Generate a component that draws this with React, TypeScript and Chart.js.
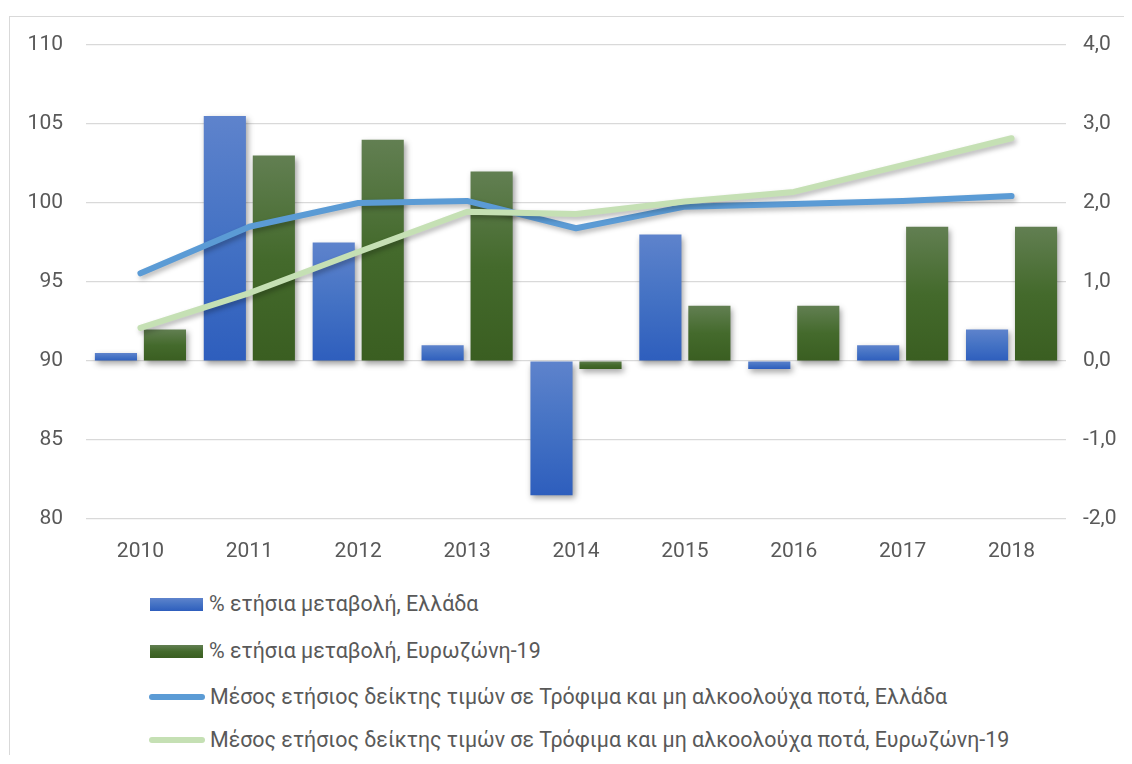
import React, { useEffect, useRef } from "react";
import { Chart, registerables } from "chart.js";

Chart.register(...registerables);

const years = ["2010", "2011", "2012", "2013", "2014", "2015", "2016", "2017", "2018"];
const greeceChange = [0.1, 3.1, 1.5, 0.2, -1.7, 1.6, -0.1, 0.2, 0.4];
const euroChange = [0.4, 2.6, 2.8, 2.4, -0.1, 0.7, 0.7, 1.7, 1.7];
const greeceIndex = [95.55, 98.5, 100.0, 100.13, 98.4, 99.77, 99.94, 100.13, 100.44];
const euroIndex = [92.1, 94.3, 96.9, 99.45, 99.3, 100.1, 100.7, 102.4, 104.1];

const labelGreeceChange = "% ετήσια μεταβολή, Ελλάδα";
const labelEuroChange = "% ετήσια μεταβολή, Ευρωζώνη-19";
const labelGreeceIndex = "Μέσος ετήσιος δείκτης τιμών σε Τρόφιμα και μη αλκοολούχα ποτά, Ελλάδα";
const labelEuroIndex = "Μέσος ετήσιος δείκτης τιμών σε Τρόφιμα και μη αλκοολούχα ποτά, Ευρωζώνη-19";

const BLUE = ["#5e83cc", "#4472c4", "#2e5ebd"];
const GREEN = ["#627f52", "#446a2c", "#3a5e21"];
const LINE_BLUE = "#5b9bd5";
const LINE_GREEN = "#c5e0b4";
const TEXT = "#595959";
const FONT = "Roboto";

const barGradient = (stops: string[]) => (ctx: any) => {
  const chart = ctx.chart;
  if (!chart.chartArea || ctx.type !== "data") return stops[1];
  const sc = chart.scales.y1;
  const v = ctx.raw as number;
  const p0 = sc.getPixelForValue(0);
  const p1 = sc.getPixelForValue(v);
  const t = Math.min(p0, p1);
  const b = Math.max(p0, p1);
  if (b - t < 1) return stops[1];
  const g = chart.ctx.createLinearGradient(0, t, 0, b);
  g.addColorStop(0, stops[0]);
  g.addColorStop(0.5, stops[1]);
  g.addColorStop(1, stops[2]);
  return g;
};

const shadowPlugin = {
  id: "softShadow",
  beforeDatasetDraw(chart: any, args: any) {
    const c = chart.ctx;
    c.save();
    const isBar = args.meta.type === "bar";
    c.shadowColor = isBar ? "rgba(0,0,0,0.38)" : "rgba(0,0,0,0.28)";
    c.shadowBlur = isBar ? 6 : 5;
    c.shadowOffsetX = 2;
    c.shadowOffsetY = 3;
  },
  afterDatasetDraw(chart: any) {
    chart.ctx.restore();
  },
};

const legendItems = [
  { label: labelGreeceChange, kind: "bar", stops: BLUE },
  { label: labelEuroChange, kind: "bar", stops: GREEN },
  { label: labelGreeceIndex, kind: "line", color: LINE_BLUE },
  { label: labelEuroIndex, kind: "line", color: LINE_GREEN },
];
const legendCenters = [587, 634, 680, 723];

export default function App() {
  const canvasRef = useRef<HTMLCanvasElement | null>(null);

  useEffect(() => {
    document.documentElement.style.overflow = "hidden";
    const canvas = canvasRef.current;
    if (!canvas) return;
    const chart = new Chart(canvas, {
      type: "bar",
      data: {
        labels: years,
        datasets: [
          {
            type: "line",
            label: labelEuroIndex,
            data: euroIndex,
            yAxisID: "y",
            borderColor: LINE_GREEN,
            backgroundColor: LINE_GREEN,
            borderWidth: 6,
            borderCapStyle: "round",
            borderJoinStyle: "round",
            pointRadius: 0,
            tension: 0,
            order: 0,
          },
          {
            type: "line",
            label: labelGreeceIndex,
            data: greeceIndex,
            yAxisID: "y",
            borderColor: LINE_BLUE,
            backgroundColor: LINE_BLUE,
            borderWidth: 6,
            borderCapStyle: "round",
            borderJoinStyle: "round",
            pointRadius: 0,
            tension: 0,
            order: 1,
          },
          {
            type: "bar",
            label: labelGreeceChange,
            data: greeceChange,
            yAxisID: "y1",
            backgroundColor: barGradient(BLUE),
            categoryPercentage: 0.9,
            barPercentage: 0.86,
            order: 2,
          },
          {
            type: "bar",
            label: labelEuroChange,
            data: euroChange,
            yAxisID: "y1",
            backgroundColor: barGradient(GREEN),
            categoryPercentage: 0.9,
            barPercentage: 0.86,
            order: 3,
          },
        ] as any,
      },
      options: {
        animation: false,
        responsive: true,
        maintainAspectRatio: false,
        layout: { padding: { top: 28, left: 0, right: 0, bottom: 0 } },
        plugins: {
          legend: { display: false },
          tooltip: { enabled: false },
        },
        scales: {
          x: {
            grid: { display: false },
            border: { display: false },
            ticks: { color: TEXT, font: { family: FONT, size: 21 }, padding: 12 },
            afterFit: (s: any) => {
              s.height = 58;
            },
          },
          y: {
            position: "left",
            min: 80,
            max: 110,
            ticks: { stepSize: 5, color: TEXT, font: { family: FONT, size: 21 }, padding: 0 },
            grid: {
              color: "#d9d9d9",
              lineWidth: 1.3,
              drawTicks: true,
              tickLength: 23,
              tickColor: "rgba(0,0,0,0)",
            },
            border: { display: false },
            afterFit: (s: any) => {
              s.width = 76;
            },
          },
          y1: {
            position: "right",
            min: -2,
            max: 4,
            ticks: {
              stepSize: 1,
              color: TEXT,
              font: { family: FONT, size: 21 },
              padding: 0,
              callback: (v: any) => Number(v).toFixed(1).replace(".", ","),
            },
            grid: {
              display: true,
              drawOnChartArea: false,
              drawTicks: true,
              tickLength: 17,
              tickColor: "rgba(0,0,0,0)",
            },
            border: { display: false },
            afterFit: (s: any) => {
              s.width = 54;
            },
          },
        },
      } as any,
      plugins: [shadowPlugin],
    });
    return () => chart.destroy();
  }, []);

  return (
    <div style={{ paddingTop: 8 }}>
      <div
        style={{
          position: "relative",
          marginLeft: 1,
          width: 1114,
          height: 738,
          borderTop: "1px solid #d9d9d9",
          borderLeft: "1px solid #d9d9d9",
          background: "#ffffff",
          fontFamily: FONT,
        }}
      >
        <div style={{ position: "absolute", left: 0, top: 0, width: 1110, height: 560 }}>
          <canvas ref={canvasRef} />
        </div>
        {legendItems.map((it, i) => (
          <div
            key={i}
            style={{
              position: "absolute",
              left: 139,
              top: legendCenters[i] - 15,
              height: 30,
              display: "flex",
              alignItems: "center",
              whiteSpace: "nowrap",
              color: TEXT,
              fontSize: 21.4,
              lineHeight: "30px",
            }}
          >
            {it.kind === "bar" ? (
              <span
                style={{
                  display: "inline-block",
                  width: 53,
                  height: 13,
                  marginLeft: 1,
                  marginRight: 6,
                  background: `linear-gradient(${it.stops![0]}, ${it.stops![1]} 50%, ${it.stops![2]})`,
                }}
              />
            ) : (
              <span
                style={{
                  display: "inline-block",
                  width: 56,
                  height: 6,
                  borderRadius: 3,
                  marginRight: 5,
                  background: it.color,
                }}
              />
            )}
            <span>{it.label}</span>
          </div>
        ))}
      </div>
    </div>
  );
}
